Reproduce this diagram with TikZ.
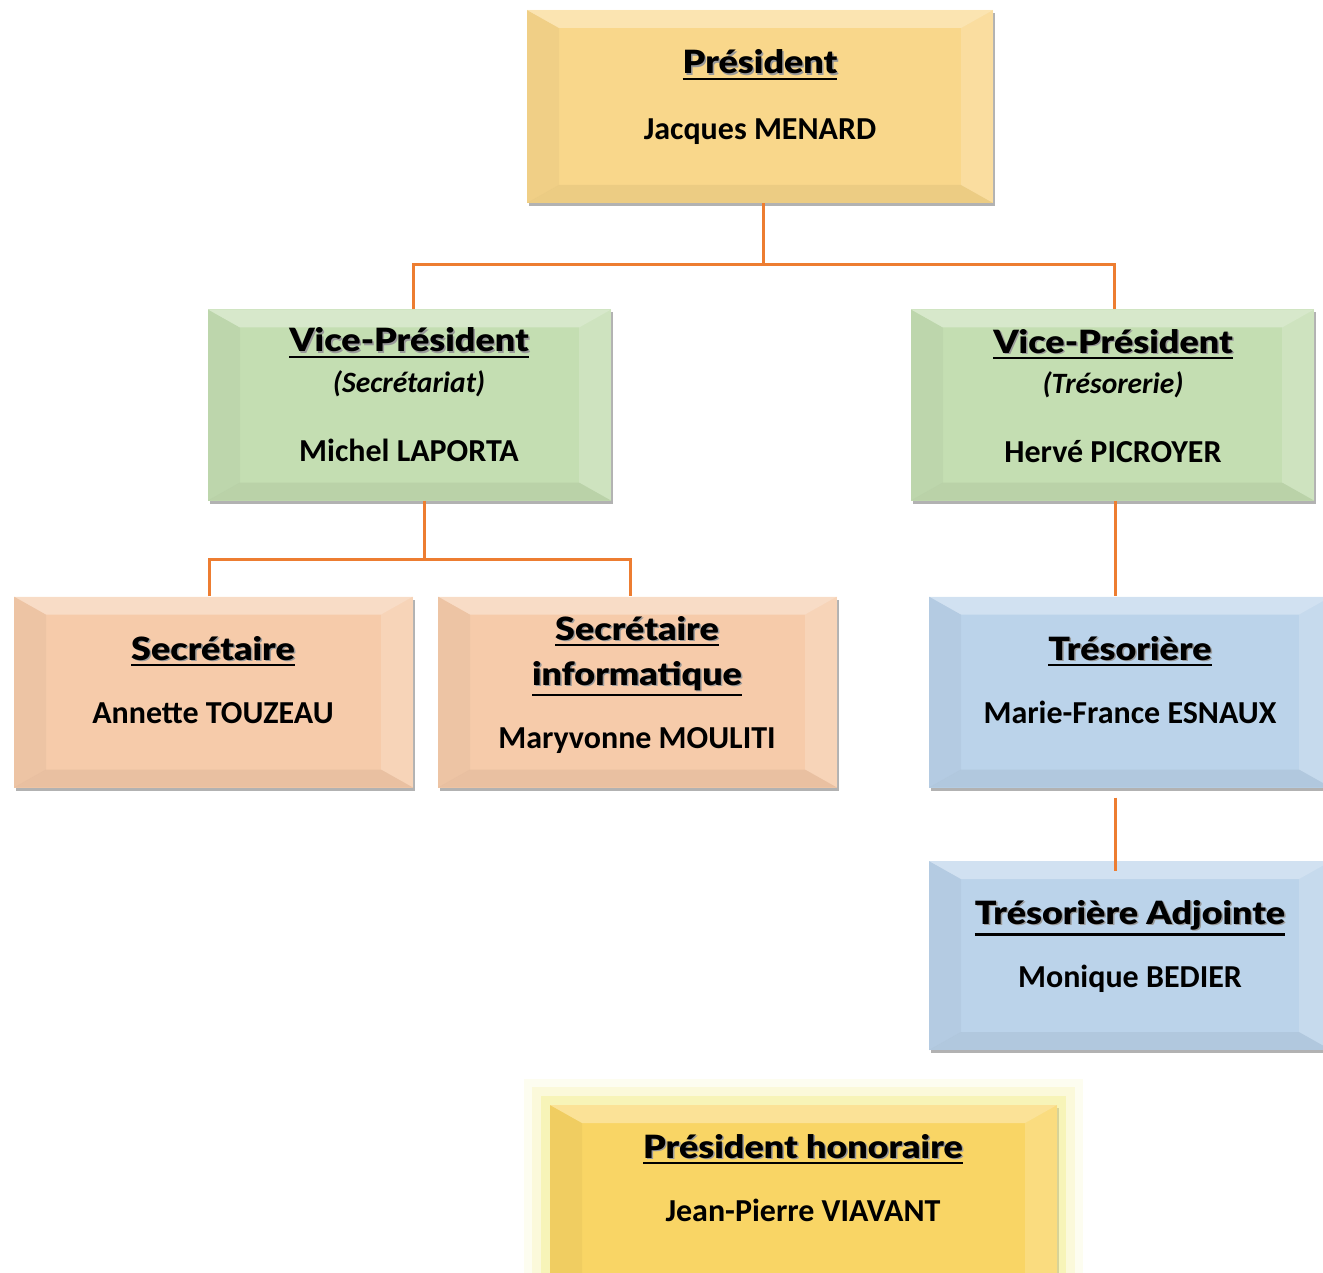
\documentclass[tikz,border=0pt]{standalone}
\usepackage{fontspec}
\setmainfont{Carlito}
\IfFontExistsTF{Lato-Black.ttf}
  {\newfontfamily\hdfont{Lato-Black.ttf}[FakeStretch=1.12]}
  {\newfontfamily\hdfont{Liberation Sans Bold}[FakeBold=1.5]}
\usetikzlibrary{shadows}

\definecolor{presyel}{HTML}{F9D78B}
\definecolor{vpgreen}{HTML}{C4DEB2}
\definecolor{secsalmon}{HTML}{F6CBAA}
\definecolor{tresblue}{HTML}{BBD3EA}
\definecolor{honyel}{HTML}{F9D565}
\definecolor{honglow}{HTML}{F1EC84}
\definecolor{linkorange}{HTML}{ED7D31}

% underlined title with a light shadow
\newcommand\hd[1]{\setbox0=\hbox{#1}\vtop{\hbox{\rlap{\kern1.5pt\raise-1.5pt\hbox{\color{black!40}#1}}\copy0}\kern2pt\hrule height 2.4pt}}

\tikzset{
  orgbox/.style={fill=#1, inner sep=0, minimum width=403, minimum height=191,
    drop shadow={shadow xshift=2pt, shadow yshift=-3pt, opacity=.3, fill=black},
    path picture={
      \fill[#1!85!black, opacity=.22] (path picture bounding box.north west) -- ([shift={(32pt,-18pt)}]path picture bounding box.north west)
        -- ([shift={(32pt,18pt)}]path picture bounding box.south west) -- (path picture bounding box.south west) -- cycle;
      \fill[#1!50!white, opacity=.35] (path picture bounding box.north east) -- ([shift={(-32pt,-18pt)}]path picture bounding box.north east)
        -- ([shift={(-32pt,18pt)}]path picture bounding box.south east) -- (path picture bounding box.south east) -- cycle;
      \fill[#1!40!white, opacity=.55] (path picture bounding box.north west) -- (path picture bounding box.north east)
        -- ([shift={(-32pt,-18pt)}]path picture bounding box.north east) -- ([shift={(32pt,-18pt)}]path picture bounding box.north west) -- cycle;
      \fill[#1!80!black, opacity=.25] (path picture bounding box.south west) -- (path picture bounding box.south east)
        -- ([shift={(-32pt,18pt)}]path picture bounding box.south east) -- ([shift={(32pt,18pt)}]path picture bounding box.south west) -- cycle;
    }},
  ttl/.style={anchor=base, inner sep=0, font=\hdfont\fontsize{32}{36}\selectfont},
  sub/.style={anchor=base, inner sep=0, font=\itshape\bfseries\fontsize{29.5}{32}\selectfont},
  nm/.style={anchor=base, inner sep=0, font=\bfseries\fontsize{32}{36}\selectfont},
  link/.style={draw=linkorange, line width=3pt},
}

\begin{document}
\begin{tikzpicture}[x=1pt, y=-1pt]
  \useasboundingbox (0,0) rectangle (1323,1273);

  % boxes
  \node[orgbox=presyel, minimum width=466, minimum height=193] (pres) at (760,106.5) {};
  \node[orgbox=vpgreen] (vpl) at (409.5,405) {};
  \node[orgbox=vpgreen] (vpr) at (1112.5,405) {};
  \node[orgbox=secsalmon, minimum width=399] (sec) at (213.5,692) {};
  \node[orgbox=secsalmon, minimum width=399] (seci) at (637.5,692) {};
  \node[orgbox=tresblue, minimum width=402] (tres) at (1130,692) {};
  \node[orgbox=tresblue, minimum width=402, minimum height=189] (adj) at (1130,955.5) {};
  \node[orgbox=honyel, minimum width=507, minimum height=190,
    preaction={draw=honglow, line width=52pt, opacity=.12, rounded corners=24pt},
    preaction={draw=honglow, line width=36pt, opacity=.2, rounded corners=14pt},
    preaction={draw=honglow, line width=18pt, opacity=.4}] (hon) at (803.5,1200) {};

  % texts
  \node[ttl] (pres-t) at (760,74) {\hd{Président}};
  \node[nm] (pres-n) at (760,140) {Jacques MENARD};
  \node[ttl] (vpl-t) at (409,352) {\hd{Vice-Président}};
  \node[sub] (vpl-s) at (409,392) {(Secrétariat)};
  \node[nm] (vpl-n) at (409,461) {Michel LAPORTA};
  \node[ttl] (vpr-t) at (1113,353) {\hd{Vice-Président}};
  \node[sub] (vpr-s) at (1113,393) {(Trésorerie)};
  \node[nm] (vpr-n) at (1113,462) {Hervé PICROYER};
  \node[ttl] (sec-t) at (213,660) {\hd{Secrétaire}};
  \node[nm] (sec-n) at (213,723) {Annette TOUZEAU};
  \node[ttl] (seci-t) at (637,640) {\hd{Secrétaire}};
  \node[ttl] (seci-t2) at (637,685) {\hd{informatique}};
  \node[nm] (seci-n) at (637,748) {Maryvonne MOULITI};
  \node[ttl] (tres-t) at (1130,660) {\hd{Trésorière}};
  \node[nm] (tres-n) at (1130,723) {Marie-France ESNAUX};
  \node[ttl] (adj-t) at (1130,924) {\hd{Trésorière Adjointe}};
  \node[nm] (adj-n) at (1130,987) {Monique BEDIER};
  \node[ttl] (hon-t) at (803,1158) {\hd{Président honoraire}};
  \node[nm] (hon-n) at (803,1221) {Jean-Pierre VIAVANT};

  % connectors
  \coordinate (j1) at (763,265);
  \coordinate (j2) at (424,559);
  \coordinate (j3) at (1115,500);
  \draw[link] (pres.south -| j1) -- (j1);
  \draw[link] ([xshift=3.5pt]vpl.north) |- (j1) -| ([xshift=1.5pt]vpr.north);
  \draw[link] (vpl.south -| j2) -- (j2);
  \draw[link] ([xshift=-4.5pt]sec.north) |- (j2) -| ([xshift=-7.5pt]seci.north);
  \draw[link] (vpr.south -| j3) -- (tres.north -| j3);
  \draw[link] ([yshift=-10pt]tres.south -| j3) -- ([yshift=-10pt]adj.north -| j3);
\end{tikzpicture}
\end{document}
